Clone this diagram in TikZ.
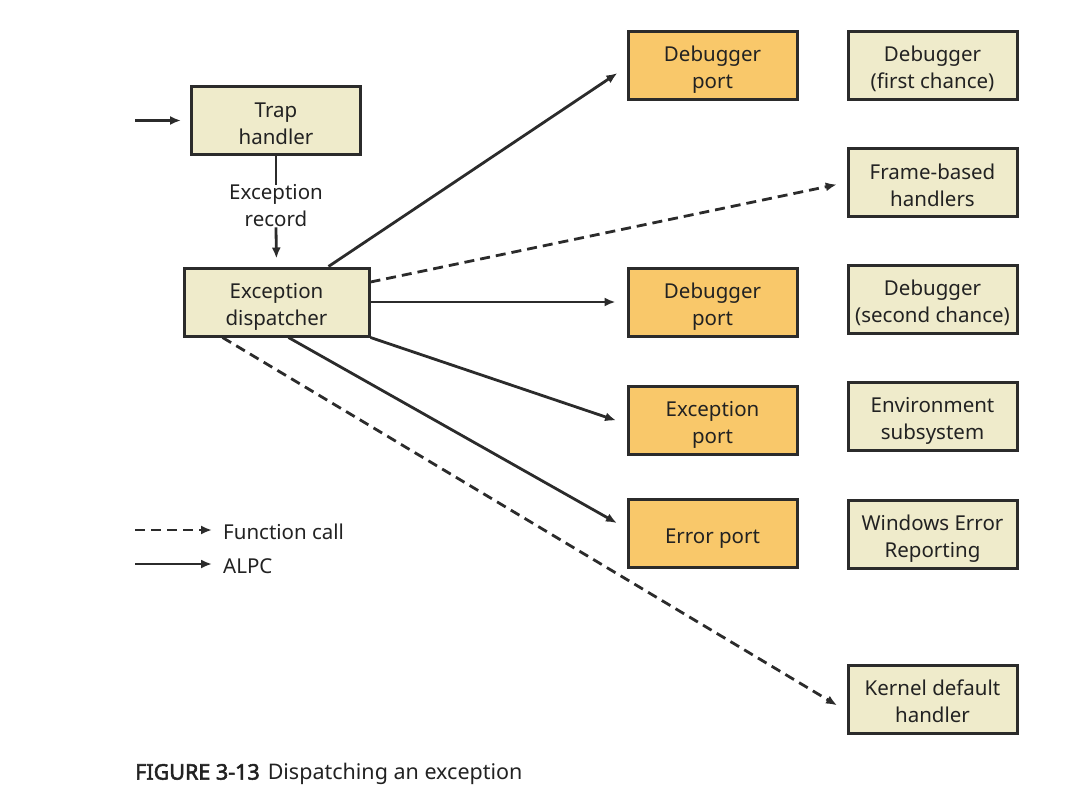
\documentclass[tikz,border=0pt]{standalone}
\usepackage{fontspec}
\setmainfont{Noto Sans}[AutoFakeBold=2.5]
\usetikzlibrary{arrows.meta,calc}
\definecolor{boxbeige}{HTML}{EFEBCB}
\definecolor{boxorange}{HTML}{F9C86A}
\definecolor{edge}{HTML}{2B2B2B}
\definecolor{txt}{HTML}{222222}
\newcommand{\bxt}[1]{\raisebox{-5pt}[\height][\depth]{\begin{tabular}{@{}c@{}}#1\end{tabular}}}
\begin{document}
\begin{tikzpicture}[x=1pt,y=-1pt,
  every node/.style={text=txt, font=\fontsize{20.5}{27}\selectfont, inner sep=0pt, align=center},
  box/.style={draw=edge, line width=3pt, minimum width=169pt, minimum height=68pt},
  beige/.style={box, fill=boxbeige},
  orange/.style={box, fill=boxorange},
  conn/.style={draw=edge, line width=2.8pt, -{Latex[length=11pt,width=9pt]}},
  fcall/.style={conn, dash pattern=on 10pt off 6pt}
]
\useasboundingbox (0,0) rectangle (1083,795);
% nodes
\node[beige] (trap) at (276,120.5) {\bxt{Trap\\handler}};
\node[beige, minimum width=185pt] (disp) at (276.5,302) {\bxt{Exception\\dispatcher}};
\node[orange] (dp1) at (712.5,65) {\bxt{Debugger\\port}};
\node[beige] (dfc) at (932.5,65) {\bxt{Debugger\\(first chance)}};
\node[beige] (fbh) at (932.5,182.5) {\bxt{Frame-based\\handlers}};
\node[orange] (dp2) at (712.5,302) {\bxt{Debugger\\port}};
\node[beige] (dsc) at (932.5,299) {\bxt{Debugger\\(second chance)}};
\node[orange] (ep) at (712.5,420) {\bxt{Exception\\port}};
\node[beige] (env) at (932.5,416) {\bxt{Environment\\subsystem}};
\node[orange] (erp) at (712.5,533.5) {\bxt{Error port}};
\node[beige] (wer) at (932.5,534) {\bxt{Windows Error\\Reporting}};
\node[beige] (kdh) at (932.5,699) {\bxt{Kernel default\\handler}};
\node (rec) at (276,206) {Exception\\record};
% entry
\coordinate (entry) at (135,120.5);
\draw[conn, shorten >=9pt] (entry) -- (trap.west);
% trap -> dispatcher
\draw[draw=edge, line width=2.8pt] (trap.south) -- (rec.north);
\draw[conn, shorten >=8pt] (rec.south) -- (disp.north);
% dispatcher connections
\draw[conn, shorten >=11pt] ($(disp.north east)+(-42,0)$) -- ($(dp1.west)+(0,2)$);
\draw[fcall, shorten >=10pt] ($(disp.east)+(0,-20)$) -- (fbh.west);
\draw[conn, shorten >=11pt] (disp.east) -- (dp2.west);
\draw[conn, shorten >=11pt] (disp.south east) -- ($(ep.west)+(0,4)$);
\draw[conn, shorten >=11pt] ($(disp.south west)+(106,0)$) -- ($(erp.west)+(0,-5)$);
\draw[fcall, shorten >=11pt] ($(disp.south west)+(40,0)$) -- ($(kdh.west)+(0,12)$);
% legend
\coordinate (l1a) at (135,530);
\coordinate (l1b) at (212,530);
\coordinate (l2a) at (135,564);
\coordinate (l2b) at (212,564);
\draw[fcall] (l1a) -- (l1b);
\draw[conn] (l2a) -- (l2b);
\node[anchor=west] (lf) at (223,532) {Function call};
\node[anchor=west] (la) at (223,566) {ALPC};
% caption
\node[anchor=west, font=\fontsize{21.5}{27}\selectfont] (cap) at (135,774) {\textbf{FIGURE 3-13}\hspace{8pt}Dispatching an exception};
\end{tikzpicture}
\end{document}
